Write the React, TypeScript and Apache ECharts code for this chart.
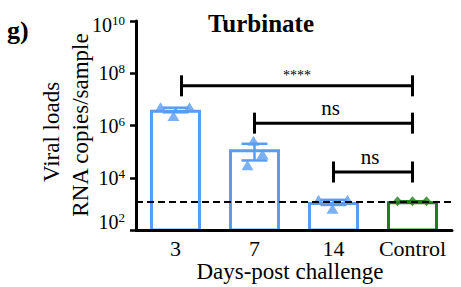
import React, { useEffect, useRef } from 'react';
import * as echarts from 'echarts';

// ---- data ----
const categories = ['3', '7', '14', 'Control'];
const groupMeans = [4.0e6, 1.23e5, 1.17e3, 1.25e3];
const groupSem = [8.0e5, 7.7e4, 2.6e2, 0];
const groupPoints = [
  [5.0e6, 2.3e6, 5.0e6],
  [3.0e4, 2.6e5, 8.0e4],
  [1.43e3, 6.5e2, 1.43e3],
  [1.25e3, 1.25e3, 1.25e3],
];
const limitOfDetection = 1.25e3;
const yTickExponents = [2, 4, 6, 8, 10];
const bracketFrom = [0, 1, 2];
const bracketTo = [3, 3, 3];
const bracketHeights = [3.3e7, 1.23e6, 1.66e4];
const bracketLabels = ['****', 'ns', 'ns'];

// ---- styling / layout ----
const BLUE = '#5a9cf0';
const GREEN = '#1b7f1b';
const groupColors = [BLUE, BLUE, BLUE, GREEN];
const pointOffsets = [
  [-15, -2, 14],
  [-7, -1, 8],
  [-15, -1, 14],
  [-15, 0, 14],
];
const bracketStartShift = [6, 0, 0];
const SERIF = '"Liberation Serif", "Times New Roman", serif';

const lg = (v: number) => Math.log10(v);

export default function App() {
  const ref = useRef<HTMLDivElement>(null);
  useEffect(() => {
    if (!ref.current) return;
    const chart = echarts.init(ref.current, undefined, { renderer: 'svg' });

    const scatterData: any[] = [];
    groupPoints.forEach((pts, i) => {
      pts.forEach((v, j) => {
        const isCtl = i === 3;
        scatterData.push({
          value: [i, lg(v)],
          symbol: isCtl ? 'diamond' : 'triangle',
          symbolSize: isCtl ? [9, 10] : [12, 10],
          symbolOffset: [pointOffsets[i][j], 0],
          itemStyle: { color: groupColors[i] },
        });
      });
    });

    const yMin = yTickExponents[0];
    const yMax = yTickExponents[yTickExponents.length - 1];

    const option: any = {
      animation: false,
      grid: { left: 136, right: 9, top: 21, bottom: 57 },
      xAxis: {
        type: 'category',
        data: categories,
        z: 5,
        axisLine: { onZero: false, lineStyle: { color: '#000', width: 3 } },
        axisTick: { alignWithLabel: true, length: 6, lineStyle: { color: '#000', width: 2.5 } },
        axisLabel: { interval: 0, hideOverlap: false, color: '#000', fontFamily: SERIF, fontSize: 22, margin: 7 },
      },
      yAxis: {
        type: 'value',
        min: yMin,
        max: yMax,
        interval: 2,
        z: 5,
        splitLine: { show: false },
        axisLine: { show: true, lineStyle: { color: '#000', width: 3 } },
        axisTick: { show: true, length: 6, lineStyle: { color: '#000', width: 2.5 } },
        axisLabel: {
          margin: 11,
          formatter: (v: number) => {
            const e = Math.round(v);
            if (e === yMin) return `{n|10}{s|${e}}\n{pb| }`;
            if (e === yMax) return `{pt| }\n{n|10}{s|${e}}`;
            return `{n|10}{s|${e}}`;
          },
          rich: {
            n: { fontFamily: SERIF, fontSize: 20, color: '#000', lineHeight: 22 },
            s: { fontFamily: SERIF, fontSize: 13, color: '#000', lineHeight: 12, verticalAlign: 'top' },
            pb: { fontSize: 10, lineHeight: 16 },
            pt: { fontSize: 6, lineHeight: 7 },
          },
        },
      },
      series: [
        {
          type: 'bar',
          barWidth: 51,
          data: groupMeans.map((m, i) => ({ value: lg(m), itemStyle: { borderColor: groupColors[i] } })),
          itemStyle: { color: 'rgba(255,255,255,0)', borderWidth: 3 },
          markLine: {
            silent: true,
            symbol: ['none', 'none'],
            label: { show: false },
            lineStyle: { color: '#000', width: 2, type: [7, 4] },
            data: [{ yAxis: lg(limitOfDetection) }],
          },
        },
        {
          type: 'custom',
          data: groupMeans.map((m, i) => [i, lg(m - groupSem[i]), lg(m + groupSem[i])]),
          encode: { x: 0, y: [1, 2] },
          renderItem: (params: any, api: any) => {
            const i = api.value(0);
            const pLo = api.coord([i, api.value(1)]);
            const pHi = api.coord([i, api.value(2)]);
            const x = pLo[0];
            const hw = 13;
            const st = { stroke: groupColors[params.dataIndex], lineWidth: 2.5 };
            return {
              type: 'group',
              children: [
                { type: 'line', shape: { x1: x, y1: pLo[1], x2: x, y2: pHi[1] }, style: st },
                { type: 'line', shape: { x1: x - hw, y1: pHi[1], x2: x + hw, y2: pHi[1] }, style: st },
                { type: 'line', shape: { x1: x - hw, y1: pLo[1], x2: x + hw, y2: pLo[1] }, style: st },
              ],
            };
          },
        },
        {
          type: 'scatter',
          data: scatterData,
        },
        {
          type: 'custom',
          data: bracketFrom.map((f, k) => [f, bracketTo[k], lg(bracketHeights[k])]),
          encode: { x: [0, 1], y: 2 },
          renderItem: (params: any, api: any) => {
            const k = params.dataIndex;
            const p1 = api.coord([api.value(0), api.value(2)]);
            const p2 = api.coord([api.value(1), api.value(2)]);
            const x1 = p1[0] + bracketStartShift[k];
            const x2 = p2[0];
            const y = p1[1];
            const st = { stroke: '#000', lineWidth: 3 };
            const lbl = bracketLabels[k];
            const isStar = lbl.indexOf('*') >= 0;
            return {
              type: 'group',
              children: [
                { type: 'line', shape: { x1, y1: y, x2, y2: y }, style: st },
                { type: 'line', shape: { x1, y1: y - 10.5, x2: x1, y2: y + 10.5 }, style: st },
                { type: 'line', shape: { x1: x2, y1: y - 10.5, x2, y2: y + 10.5 }, style: st },
                {
                  type: 'text',
                  x: (x1 + x2) / 2 - (isStar ? 0 : 3),
                  y: isStar ? y - 10 : y - 15,
                  style: {
                    text: lbl,
                    fill: '#000',
                    font: `${isStar ? 14 : 21}px ${SERIF}`,
                    textAlign: 'center',
                    textVerticalAlign: 'middle',
                  },
                },
              ],
            };
          },
        },
      ],
      graphic: [
        {
          type: 'text', x: 261, y: 23,
          style: { text: 'Turbinate', font: `bold 25px ${SERIF}`, fill: '#000', textAlign: 'center', textVerticalAlign: 'middle' },
        },
        {
          type: 'text', x: 7, y: 30,
          style: { text: 'g)', font: `bold 26px ${SERIF}`, fill: '#000', textAlign: 'left', textVerticalAlign: 'middle' },
        },
        {
          type: 'text', x: 51, y: 132, rotation: Math.PI / 2,
          style: { text: 'Viral loads', font: `23px ${SERIF}`, fill: '#000', textAlign: 'center', textVerticalAlign: 'middle' },
        },
        {
          type: 'text', x: 80, y: 125, rotation: Math.PI / 2,
          style: { text: 'RNA copies/sample', font: `23px ${SERIF}`, fill: '#000', textAlign: 'center', textVerticalAlign: 'middle' },
        },
        {
          type: 'text', x: 290, y: 271,
          style: { text: 'Days-post challenge', font: `23px ${SERIF}`, fill: '#000', textAlign: 'center', textVerticalAlign: 'middle' },
        },
      ],
    };
    chart.setOption(option);
    return () => chart.dispose();
  }, []);
  return <div ref={ref} style={{ width: 461, height: 287, position: 'absolute', left: 0, top: 0 }} />;
}
